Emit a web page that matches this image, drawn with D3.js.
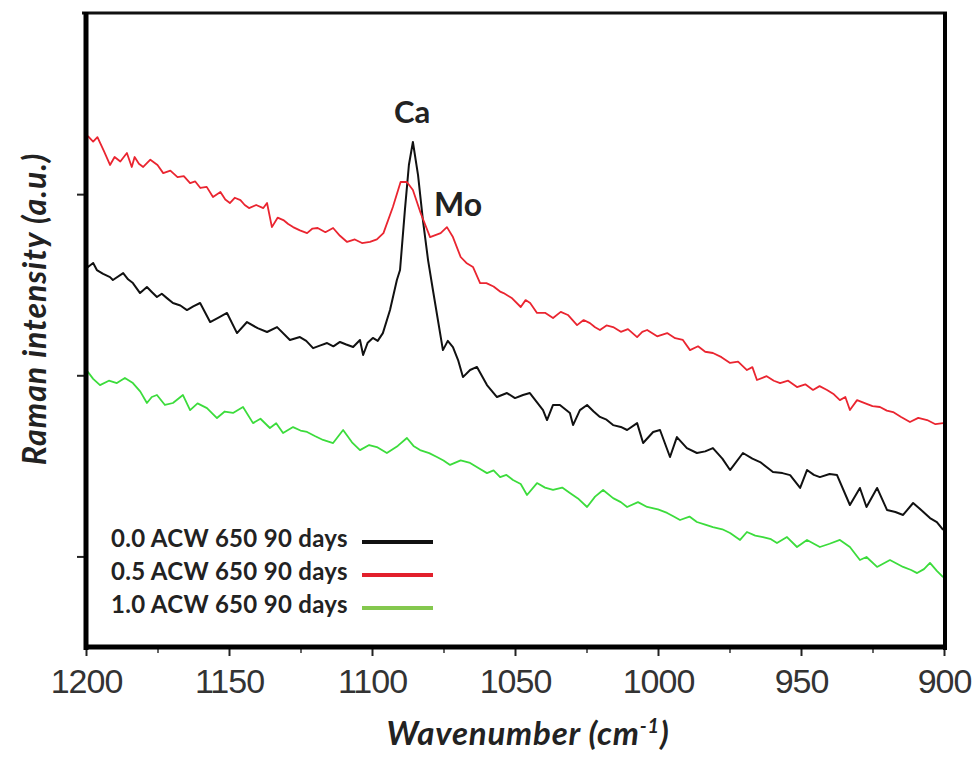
<!DOCTYPE html>
<html>
<head>
<meta charset="utf-8">
<script src="https://cdn.jsdelivr.net/npm/d3@7"></script>
<style>
  body { margin: 0; background: #fff; }
  svg text { font-family: Lato, "Open Sans", sans-serif; }
</style>
</head>
<body>
<div id="chart"></div>
<script>
// wavenumber (cm-1), intensity (a.u.)
var black = [
  [1200, 2110], [1199.3, 2098], [1197.5, 2120], [1196.2, 2081], [1194, 2060], [1191.6, 2042],
  [1190.6, 2026], [1187, 2064], [1185.3, 2030], [1183.6, 2009], [1181.1, 1954], [1178.7, 1987],
  [1177, 1960], [1175.2, 1932], [1173.5, 1950], [1171.7, 1926], [1169.6, 1899], [1167, 1885],
  [1164.7, 1860], [1162.5, 1880], [1160.1, 1899], [1156.6, 1794], [1153.5, 1820], [1150.7, 1844],
  [1147.2, 1733], [1143.7, 1794], [1140, 1760], [1136.7, 1739], [1133.2, 1766], [1128.7, 1695],
  [1125.2, 1711], [1123, 1690], [1120.6, 1650], [1118, 1665], [1115.7, 1678], [1113.5, 1660],
  [1111.2, 1684], [1109, 1670], [1106.6, 1656], [1104.2, 1695], [1103.1, 1612], [1101.5, 1680],
  [1099.7, 1706], [1098, 1690], [1096.2, 1733], [1093.7, 1860], [1091.3, 2026], [1090.2, 2081],
  [1088.5, 2412], [1087.1, 2661], [1085.7, 2788], [1083.9, 2605], [1082.2, 2357], [1080.4, 2136],
  [1078.7, 1971], [1075.2, 1639], [1073.5, 1690], [1071.7, 1656], [1069.9, 1584], [1068.2, 1490],
  [1065.7, 1529], [1063.3, 1546], [1059.8, 1446], [1056.3, 1380], [1052.8, 1402], [1050, 1374],
  [1047.2, 1391], [1044.8, 1402], [1040.2, 1308], [1038.8, 1253], [1036.7, 1336], [1034.3, 1336],
  [1030.8, 1292], [1029.7, 1225], [1027.3, 1308], [1024.8, 1336], [1022.5, 1300], [1020.3, 1270],
  [1018, 1255], [1015.7, 1225], [1013, 1215], [1010.8, 1198], [1007.3, 1236], [1005.2, 1126],
  [1001.7, 1187], [999.3, 1198], [995.8, 1049], [993.4, 1159], [989.9, 1098], [986.4, 1071],
  [983.5, 1080], [980.8, 1098], [977.5, 1040], [974.8, 977], [970.3, 1071], [967, 1040],
  [964.3, 1021], [959.8, 966], [956.5, 960], [953.8, 949], [950.3, 878], [947.9, 977],
  [945.5, 950], [943.4, 938], [940, 955], [937.4, 949], [932.9, 784], [929.4, 878],
  [927.1, 773], [923.4, 878], [919.9, 756], [917, 745], [914.3, 729], [910.8, 795],
  [907.5, 750], [904.9, 712], [902.5, 690], [900.3, 646]
];

var red = [
  [1200, 2826], [1199, 2815], [1197.5, 2790], [1196, 2815], [1193.8, 2740], [1191.6, 2661],
  [1190, 2705], [1188, 2680], [1185.7, 2727], [1184, 2650], [1183, 2705], [1181.5, 2668],
  [1180, 2650], [1177.5, 2690], [1175, 2661], [1173, 2616], [1170.5, 2630], [1168, 2594],
  [1165.8, 2600], [1163.6, 2561], [1161.8, 2570], [1160, 2534], [1157.8, 2540], [1155.6, 2484],
  [1153, 2512], [1151.3, 2470], [1149.7, 2451], [1148, 2480], [1146, 2467], [1144.5, 2440],
  [1143, 2423], [1140.5, 2440], [1138, 2423], [1136.7, 2451], [1135, 2318], [1133, 2370],
  [1131, 2357], [1129.3, 2335], [1127.6, 2318], [1125.2, 2300], [1122.7, 2285], [1120.8, 2310],
  [1119, 2313], [1116.3, 2290], [1113.6, 2313], [1111.2, 2270], [1108.7, 2236], [1106, 2250],
  [1103.5, 2230], [1100.7, 2236], [1098.3, 2250], [1096, 2285], [1092.7, 2429], [1090, 2567],
  [1087.8, 2567], [1085.7, 2523], [1083, 2396], [1079.7, 2263], [1076, 2285], [1073.8, 2318],
  [1071.7, 2263], [1069, 2153], [1067, 2120], [1064.7, 2098], [1062.2, 2009], [1060, 2009],
  [1057.5, 1990], [1055, 1960], [1054, 1954], [1051, 1925], [1048, 1877], [1046.3, 1915],
  [1044.7, 1899], [1042.3, 1844], [1039.5, 1845], [1036.7, 1816], [1034, 1850], [1031.5, 1833],
  [1028.3, 1777], [1026, 1805], [1023.8, 1788], [1022, 1765], [1020.3, 1750], [1018, 1775],
  [1015.7, 1766], [1013, 1740], [1010.5, 1755], [1007.3, 1711], [1005.5, 1740], [1003.8, 1750],
  [1000.3, 1715], [996.8, 1733], [994, 1705], [991.3, 1695], [988.8, 1639], [986, 1660],
  [983.5, 1630], [980.8, 1623], [977.8, 1600], [974.8, 1568], [972, 1575], [968.9, 1529],
  [967, 1545], [965.4, 1474], [962, 1495], [959.5, 1470], [957.3, 1457], [954.5, 1470],
  [951.4, 1435], [948.5, 1450], [945.8, 1419], [943.5, 1440], [940.9, 1419], [938.5, 1395],
  [936.4, 1363], [934.5, 1380], [932.9, 1308], [930.4, 1363], [927.5, 1345], [925, 1330],
  [922.4, 1325], [920, 1305], [917.8, 1297], [915, 1270], [911.9, 1242], [909, 1265],
  [905.9, 1253], [903, 1230], [900.3, 1236]
];

var green = [
  [1200, 1525], [1199.3, 1518], [1197.5, 1480], [1195.1, 1446], [1192, 1470], [1189.2, 1457],
  [1186.4, 1485], [1183.6, 1457], [1181, 1410], [1178.7, 1347], [1177, 1380], [1175.2, 1391],
  [1172.4, 1336], [1169.6, 1347], [1166.1, 1391], [1163.6, 1308], [1161, 1345], [1157.7, 1319],
  [1154.2, 1264], [1151.5, 1300], [1148.6, 1292], [1145.1, 1325], [1141.6, 1236], [1139, 1260],
  [1135.7, 1209], [1133.5, 1235], [1131.1, 1181], [1127.6, 1214], [1125, 1195], [1122.7, 1187],
  [1120, 1165], [1117.1, 1143], [1113.6, 1126], [1110.1, 1198], [1107, 1130], [1104.2, 1087],
  [1101, 1115], [1098.3, 1104], [1094.8, 1071], [1091, 1110], [1087.8, 1154], [1085.5, 1110],
  [1083.2, 1087], [1080, 1070], [1077.3, 1049], [1075, 1030], [1072.7, 1005], [1069, 1030],
  [1065.7, 1016], [1062.5, 985], [1059.8, 960], [1057.5, 975], [1055.2, 938], [1053, 950],
  [1050.7, 922], [1048, 900], [1045.8, 839], [1042.3, 905], [1039.5, 880], [1036.7, 867],
  [1033.5, 880], [1030.8, 850], [1028, 820], [1024.8, 773], [1022, 830], [1019.2, 867],
  [1015.7, 822], [1013, 800], [1010.8, 773], [1007, 800], [1003.8, 773], [1000, 760],
  [996.8, 740], [994.5, 720], [992.3, 701], [989, 720], [986.4, 690], [983.5, 675],
  [980.8, 662], [977.5, 650], [974.8, 629], [971.3, 591], [968.9, 635], [966, 615],
  [963.3, 607], [960.5, 595], [958.4, 574], [954.9, 607], [951.4, 552], [947.9, 591],
  [945.5, 570], [943.4, 552], [940, 570], [936.4, 591], [932.9, 552], [929.4, 480],
  [927.1, 497], [923.4, 442], [918.9, 480], [914.3, 442], [911.5, 425], [909.4, 408],
  [907, 430], [904.9, 464], [902.5, 420], [900.3, 386]
];

var seriesNames = ["0.0 ACW 650 90 days", "0.5 ACW 650 90 days", "1.0 ACW 650 90 days"];
var lineColors = ["#111111", "#ea2530", "#3cdc3c"];
var legendColors = ["#111111", "#e2202c", "#84c84e"];
var xTicks = [1200, 1150, 1100, 1050, 1000, 950, 900];
var xMinor = [1175, 1125, 1075, 1025, 975, 925];
var yTicks = [500, 1500, 2500];

function init() {
    var w = 978;
    var h = 761;

    var svg = d3.select("#chart")
        .append("svg")
        .attr("width", w)
        .attr("height", h);

    var x = d3.scaleLinear().domain([1200, 900]).range([86, 944]);
    var y = d3.scaleLinear().domain([0, 3500]).range([647, 13]);

    var line = d3.line()
        .x(function (d) { return x(d[0]); })
        .y(function (d) { return y(d[1]); });

    // spectra
    [black, red, green].forEach(function (s, i) {
        svg.append("path")
            .datum(s)
            .attr("d", line)
            .attr("fill", "none")
            .attr("stroke", lineColors[i])
            .attr("stroke-width", i == 0 ? 2 : 1.8)
            .attr("stroke-linejoin", "round");
    });

    // x axis
    var xAxis = svg.append("g")
        .attr("transform", "translate(0,647)")
        .call(d3.axisBottom(x).tickValues(xTicks).tickSize(9).tickPadding(13)
            .tickFormat(d3.format("d")));
    xAxis.select(".domain").remove();
    xAxis.selectAll(".tick line").attr("stroke", "#222").attr("stroke-width", 2);
    xAxis.selectAll("text")
        .attr("fill", "#333")
        .style("font-family", "'Liberation Sans', Arial, sans-serif")
        .style("font-size", "34px")
        .style("letter-spacing", "-1px");

    var xAxisMinor = svg.append("g")
        .attr("transform", "translate(0,647)")
        .call(d3.axisBottom(x).tickValues(xMinor).tickSize(6).tickFormat(""));
    xAxisMinor.select(".domain").remove();
    xAxisMinor.selectAll(".tick line").attr("stroke", "#333").attr("stroke-width", 1.5);

    // y axis (ticks only)
    var yAxis = svg.append("g")
        .attr("transform", "translate(86,0)")
        .call(d3.axisLeft(y).tickValues(yTicks).tickSize(9).tickFormat(""));
    yAxis.select(".domain").remove();
    yAxis.selectAll(".tick line").attr("stroke", "#222").attr("stroke-width", 2);

    // frame
    svg.append("line").attr("x1", 82).attr("x2", 947).attr("y1", 13).attr("y2", 13)
        .attr("stroke", "#111").attr("stroke-width", 3);
    svg.append("line").attr("x1", 86).attr("x2", 86).attr("y1", 12).attr("y2", 650)
        .attr("stroke", "#000").attr("stroke-width", 5);
    svg.append("line").attr("x1", 84).attr("x2", 947).attr("y1", 647).attr("y2", 647)
        .attr("stroke", "#000").attr("stroke-width", 5);
    svg.append("line").attr("x1", 945).attr("x2", 945).attr("y1", 12).attr("y2", 650)
        .attr("stroke", "#000").attr("stroke-width", 4);

    // peak labels
    svg.append("text").attr("x", 412).attr("y", 123)
        .attr("text-anchor", "middle")
        .style("font-weight", "bold").style("font-size", "31px").attr("fill", "#222")
        .text("Ca");
    svg.append("text").attr("x", 434).attr("y", 216)
        .style("font-weight", "bold").style("font-size", "32px").attr("fill", "#222")
        .text("Mo");

    // legend
    var leg = svg.append("g");
    seriesNames.forEach(function (name, i) {
        var yy = 547 + i * 33;
        leg.append("text")
            .attr("x", 111).attr("y", yy)
            .style("font-weight", "bold").style("font-size", "24px")
            .style("letter-spacing", "0.3px")
            .attr("fill", "#222")
            .text(name);
        leg.append("line")
            .attr("x1", 362).attr("x2", 433)
            .attr("y1", yy - 5).attr("y2", yy - 5)
            .attr("stroke", legendColors[i])
            .attr("stroke-width", 4);
    });

    // axis titles
    var xt = svg.append("text")
        .attr("x", 528).attr("y", 745)
        .attr("text-anchor", "middle")
        .style("font-weight", "bold").style("font-style", "italic")
        .style("font-size", "33px").style("letter-spacing", "0.8px")
        .attr("fill", "#222");
    xt.append("tspan").text("Wavenumber (cm");
    xt.append("tspan").attr("dy", -12).style("font-size", "20px").text("-1");
    xt.append("tspan").attr("dy", 12).text(")");

    svg.append("text")
        .attr("transform", "translate(46,309) rotate(-90)")
        .attr("text-anchor", "middle")
        .style("font-weight", "bold").style("font-style", "italic")
        .style("font-size", "32px").style("letter-spacing", "1px")
        .attr("fill", "#222")
        .text("Raman intensity (a.u.)");
}

window.onload = init;
</script>
</body>
</html>
